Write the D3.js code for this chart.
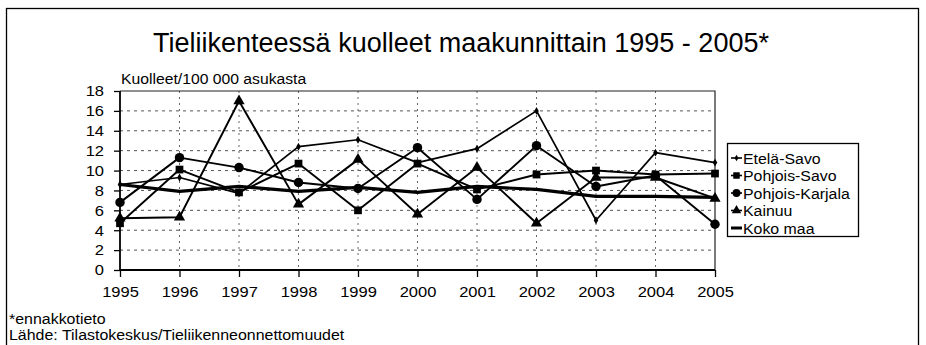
<!DOCTYPE html>
<html>
<head>
<meta charset="utf-8">
<script src="https://cdn.jsdelivr.net/npm/d3@7"></script>
<style>
  html, body { margin: 0; padding: 0; background: #fff; }
  svg text { font-family: Arial, "Liberation Sans", sans-serif; fill: #000; }
</style>
</head>
<body>
<svg id="chart" width="926" height="345"></svg>
<script>
// Road traffic deaths per 100 000 inhabitants, by region
const years = [1995, 1996, 1997, 1998, 1999, 2000, 2001, 2002, 2003, 2004, 2005];
const etelaSavo      = [8.6, 9.3, 7.7, 12.4, 13.1, 10.8, 12.2, 16.0, 5.0, 11.8, 10.8];
const pohjoisSavo    = [4.7, 10.1, 7.8, 10.7, 6.0, 10.7, 8.1, 9.6, 10.0, 9.6, 9.7];
const pohjoisKarjala = [6.8, 11.3, 10.3, 8.8, 8.2, 12.3, 7.1, 12.5, 8.4, 9.5, 4.6];
const kainuu         = [5.2, 5.3, 17.0, 6.6, 11.1, 5.6, 10.3, 4.7, 9.3, 9.3, 7.2];
const kokoMaa        = [8.6, 7.9, 8.4, 7.9, 8.3, 7.8, 8.4, 8.1, 7.4, 7.4, 7.3];
const seriesNames = ["Etelä-Savo", "Pohjois-Savo", "Pohjois-Karjala", "Kainuu", "Koko maa"];
const yTicks = [0, 2, 4, 6, 8, 10, 12, 14, 16, 18];

const titleText = "Tieliikenteessä kuolleet maakunnittain 1995 - 2005*";
const yLabelText = "Kuolleet/100 000 asukasta";
const noteText = "*ennakkotieto";
const sourceText = "Lähde: Tilastokeskus/Tieliikenneonnettomuudet";

const series = [
  { name: seriesNames[0], values: etelaSavo,      symbol: d3.symbolDiamond,  size: 18, width: 1.7 },
  { name: seriesNames[1], values: pohjoisSavo,    symbol: d3.symbolSquare,   size: 60, width: 1.9 },
  { name: seriesNames[2], values: pohjoisKarjala, symbol: d3.symbolCircle,   size: 70, width: 1.9 },
  { name: seriesNames[3], values: kainuu,         symbol: d3.symbolTriangle, size: 55, width: 1.9 },
  { name: seriesNames[4], values: kokoMaa,        symbol: null,              size: 0,  width: 3.2 }
];

const svg = d3.select("#chart");
const SX = 1.1; // slightly wide lettering

function wideText(g, px, py, str, size, anchor, sx) {
  return g.append("text")
    .attr("transform", `translate(${px},${py}) scale(${sx || SX},1)`)
    .attr("text-anchor", anchor || "start")
    .style("font-size", size + "px")
    .text(str);
}

// outer frame
svg.append("rect")
  .attr("x", 6.5).attr("y", 8.5).attr("width", 912).attr("height", 360)
  .attr("fill", "none").attr("stroke", "#000").attr("stroke-width", 1.3);

const plotLeft = 120, plotRight = 715, plotTop = 91, plotBottom = 270;
const x = d3.scalePoint().domain(years).range([plotLeft, plotRight]).padding(0);
const y = d3.scaleLinear().domain([0, 18]).range([plotBottom, plotTop]);

// title
svg.append("text")
  .attr("x", 461).attr("y", 52)
  .attr("text-anchor", "middle")
  .style("font-size", "27px")
  .text(titleText);

// y-axis caption
wideText(svg, 121, 84, yLabelText, 14.3, "start");

// grid
const grid = svg.append("g");
grid.selectAll("line.h").data(yTicks.filter(d => d > 0 && d < 18)).join("line")
  .attr("x1", plotLeft).attr("x2", plotRight)
  .attr("y1", d => y(d)).attr("y2", d => y(d))
  .attr("stroke", "#555").attr("stroke-width", 1).attr("stroke-dasharray", "3,4");
grid.selectAll("line.v").data(years.slice(1, -1)).join("line")
  .attr("x1", d => x(d)).attr("x2", d => x(d))
  .attr("y1", plotTop).attr("y2", plotBottom)
  .attr("stroke", "#666").attr("stroke-width", 1).attr("stroke-dasharray", "2,4");

// plot frame (top and right)
svg.append("path")
  .attr("d", `M${plotLeft},${plotTop}H${plotRight}V${plotBottom}`)
  .attr("fill", "none").attr("stroke", "#222").attr("stroke-width", 1.2);

// axes
const yAxis = svg.append("g")
  .attr("transform", `translate(${plotLeft},0)`)
  .call(d3.axisLeft(y).tickValues(yTicks).tickSize(6).tickPadding(10).tickFormat(d3.format("d")));
const xAxis = svg.append("g")
  .attr("transform", `translate(0,${plotBottom})`)
  .call(d3.axisBottom(x).tickSize(7).tickPadding(9).tickFormat(d3.format("d")));
[yAxis, xAxis].forEach(a => {
  a.select(".domain").attr("stroke", "#000").attr("stroke-width", 1.8);
  a.selectAll(".tick line").attr("stroke", "#000").attr("stroke-width", 1.3);
  a.selectAll("text").style("font-size", "15px").attr("font-family", null).attr("fill", "#000");
});
xAxis.select(".domain").attr("d", `M${plotLeft},0H${plotRight}`);
yAxis.select(".domain").attr("d", `M0,${plotTop}V${plotBottom}`);
yAxis.selectAll(".tick text").attr("transform", `scale(${SX},1)`).attr("x", -16 / SX);
xAxis.selectAll(".tick text").attr("transform", `scale(${SX},1)`);

// series lines and markers
const line = d3.line().x((d, i) => x(years[i])).y(d => y(d));
const plot = svg.append("g");
series.forEach(s => {
  plot.append("path")
    .datum(s.values)
    .attr("d", line)
    .attr("fill", "none").attr("stroke", "#000")
    .attr("stroke-width", s.width).attr("stroke-linejoin", "round");
});
series.forEach(s => {
  if (!s.symbol) return;
  plot.selectAll(null).data(s.values).join("path")
    .attr("transform", (d, i) => `translate(${x(years[i])},${y(d)})`)
    .attr("d", d3.symbol().type(s.symbol).size(s.size))
    .attr("fill", "#000");
});

// legend
const lg = svg.append("g");
lg.append("rect")
  .attr("x", 727.5).attr("y", 143.5).attr("width", 131).attr("height", 93)
  .attr("fill", "#fff").attr("stroke", "#000").attr("stroke-width", 1.3);
series.forEach((s, i) => {
  const cy = 158 + i * 17.5;
  lg.append("line")
    .attr("x1", 731).attr("x2", 742).attr("y1", cy).attr("y2", cy)
    .attr("stroke", "#000").attr("stroke-width", s.symbol ? 1.6 : 3);
  if (s.symbol) {
    lg.append("path")
      .attr("transform", `translate(736.5,${cy})`)
      .attr("d", d3.symbol().type(s.symbol).size(s.size * 0.7))
      .attr("fill", "#000");
  }
  wideText(lg, 743, cy + 5.5, s.name, 15, "start", 1.06);
});

// footnotes
wideText(svg, 9, 324, noteText, 14.5, "start");
wideText(svg, 9, 340, sourceText, 14.5, "start");
</script>
</body>
</html>
